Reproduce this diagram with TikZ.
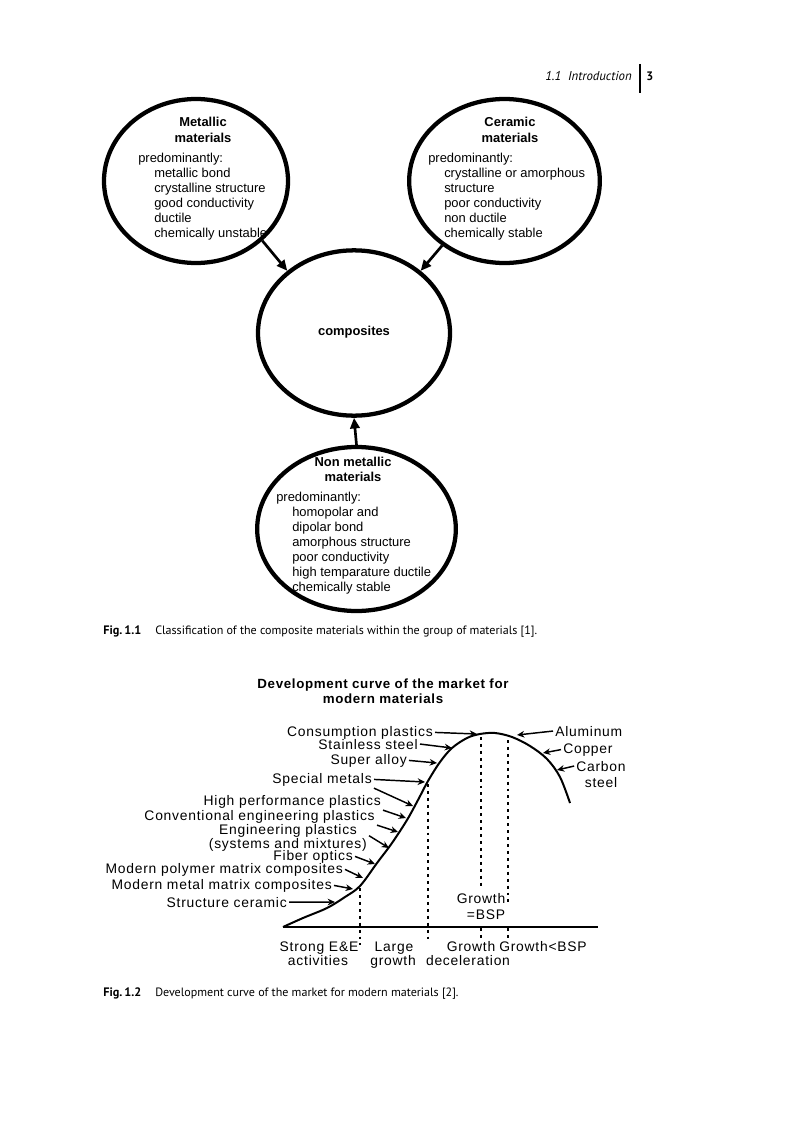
\documentclass[tikz,border=0pt]{standalone}
\usepackage{fontspec}
\setmainfont{Liberation Sans}
\newfontfamily\capfont{PT Sans}
\newfontfamily\wfont[LetterSpace=5.5]{Liberation Sans}
\newfontfamily\titfont[LetterSpace=5]{Liberation Sans}
\usetikzlibrary{shapes.geometric,arrows.meta}
\tikzset{
  ell/.style={draw, ellipse, line width=3.2pt, inner sep=0pt},
  txt/.style={font=\fontsize{9.7}{11.25}\selectfont, inner sep=0pt},
  ttl/.style={font=\bfseries\fontsize{9.7}{11.25}\selectfont, inner sep=0pt},
  conn/.style={-{Triangle[length=8pt,width=7pt]}, line width=2pt},
  lab/.style={font=\wfont\fontsize{10.4}{12}\selectfont, inner sep=1.5pt},
  larr/.style={-{Stealth[length=5.5pt,width=5pt]}, line width=1.1pt},
  dots/.style={line width=1.6pt, dash pattern=on 2.2pt off 3pt},
  capt/.style={font=\capfont\fontsize{9.05}{10}\selectfont, inner sep=0pt},
  captb/.style={font=\capfont\bfseries\fontsize{9.2}{10}\selectfont, inner sep=0pt},
}
\begin{document}
\begin{tikzpicture}[x=0.75pt,y=-0.75pt]
\useasboundingbox (0,0) rectangle (800,1131);
\fill[white] (0,0) rectangle (800,1131);
% header
\node[anchor=base east, inner sep=0pt, font=\capfont\itshape\fontsize{9.6}{10}\selectfont] (hdr) at (632,80) {1.1\ \ Introduction};
\draw[line width=1.6pt] (640,64) -- (640,93);
\node[captb, anchor=base west] (pg) at (646,80) {3};
% ellipses
\node[ell, minimum width=138pt, minimum height=123pt] (met) at (196,181) {};
\node[ell, minimum width=143pt, minimum height=123pt] (cer) at (504.5,181) {};
\node[ell, minimum width=144pt, minimum height=124pt] (comp) at (354,333) {};
\node[ell, minimum width=149pt, minimum height=123pt] (non) at (356.5,529) {};
% metallic text
\node[ttl, anchor=base] (mt1) at (203,127) {Metallic};
\node[ttl, anchor=base] (mt2) at (203,142) {materials};
\node[txt, anchor=base west] (mp) at (138,162) {predominantly:};
\foreach \t [count=\i] in {metallic bond, crystalline structure, good conductivity, ductile, chemically unstable}
  \node[txt, anchor=base west] (m\i) at (154,162+15*\i) {\t};
% ceramic text
\node[ttl, anchor=base] (ct1) at (510,127) {Ceramic};
\node[ttl, anchor=base] (ct2) at (510,142) {materials};
\node[txt, anchor=base west] (cp) at (428,162) {predominantly:};
\foreach \t [count=\i] in {crystalline or amorphous, structure, poor conductivity, non ductile, chemically stable}
  \node[txt, anchor=base west] (c\i) at (444,162+15*\i) {\t};
% composites
\node[ttl] (compt) at (354,332) {composites};
% non metallic text
\node[ttl, anchor=base] (nt1) at (353,466) {Non metallic};
\node[ttl, anchor=base] (nt2) at (353,481) {materials};
\node[txt, anchor=base west] (np) at (276,501) {predominantly:};
\foreach \t [count=\i] in {homopolar and, dipolar bond, amorphous structure, poor conductivity, high temparature ductile, chemically stable}
  \node[txt, anchor=base west] (n\i) at (292,501+15*\i) {\t};
% connectors
\draw[conn] (met.-42) -- (comp.137);
\draw[conn] (cer.-134) -- (comp.43);
\draw[conn] (non.north) -- (comp.south);
% caption 1
\node[captb, anchor=base west] (f1) at (103,634) {Fig.\,1.1};
\node[capt, anchor=base west] (f1t) at (155,634) {Classification of the composite materials within the group of materials [1].};
% chart title
\node[anchor=base, inner sep=0pt, font=\titfont\bfseries\fontsize{10}{12}\selectfont] (g1) at (383,688) {Development curve of the market for};
\node[anchor=base, inner sep=0pt, font=\titfont\bfseries\fontsize{10}{12}\selectfont] (g2) at (383,703) {modern materials};
% axis and curve
\draw[line width=2pt] (283,927) -- (598,927);
\draw[line width=1.5pt] plot[smooth, tension=0.55] coordinates {(283,927) (303,918) (327,908) (345,897) (360,886) (377,863) (392,843) (407,820) (418,800) (428,781) (440,762) (452,748) (467,738) (480,734) (495,733) (512,737) (530,746) (547,759) (560,777) (570,803)};
% dotted lines
\draw[dots] (360,888) -- (360,945);
\draw[dots] (428,784) -- (428,942);
\draw[dots] (481,737) -- (481,888);
\draw[dots] (481,928) -- (481,938);
\draw[dots] (508,740) -- (508,905);
\draw[dots] (508,928) -- (508,938);
% tips on curve
\coordinate (t1) at (477,734);
\coordinate (t2) at (452,748);
\coordinate (t3) at (437,763);
\coordinate (t4) at (425,782);
\coordinate (t4b) at (413,806);
\coordinate (t5) at (406,818);
\coordinate (t6) at (398,832);
\coordinate (t7) at (389,848);
\coordinate (t8) at (375,864);
\coordinate (t9) at (363,878);
\coordinate (t10) at (353,889);
\coordinate (t11) at (335,902);
\coordinate (r1) at (517,735);
\coordinate (r2) at (543,753);
\coordinate (r3) at (557,770);
% left labels
\node[lab, anchor=base east] (l1) at (435,736) {Consumption plastics};
\node[lab, anchor=base east] (l2) at (420,749) {Stainless steel};
\node[lab, anchor=base east] (l3) at (409,764) {Super alloy};
\node[lab, anchor=base east] (l4) at (374,783) {Special metals};
\node[lab, anchor=base east] (l5) at (383,805) {High performance plastics};
\node[lab, anchor=base east] (l6) at (377,820) {Conventional engineering plastics};
\node[lab, anchor=base] (l7a) at (288,834) {Engineering plastics};
\node[lab, anchor=base east] (l7) at (369,848) {(systems and mixtures)};
\node[lab, anchor=base east] (l8) at (355,860) {Fiber optics};
\node[lab, anchor=base east] (l9) at (345,873) {Modern polymer matrix composites};
\node[lab, anchor=base east] (l10) at (334,889) {Modern metal matrix composites};
\node[lab, anchor=base east] (l11) at (289,907) {Structure ceramic};
\draw[larr] (l1.east) -- (t1);
\draw[larr] (l2.east) -- (t2);
\draw[larr] (l3.east) -- (t3);
\draw[larr] (l4.east) -- (t4);
\draw[larr] (l4.south east) -- (t4b);
\draw[larr] (l5.south east) -- (t5);
\draw[larr] (l6.south east) -- (t6);
\draw[larr] (l7.north east) -- (t7);
\draw[larr] (l8.east) -- (t8);
\draw[larr] (l9.east) -- (t9);
\draw[larr] (l10.east) -- (t10);
\draw[larr] (l11.east) -- (t11);
% right labels
\node[lab, anchor=base west] (rr1) at (553,736) {Aluminum};
\node[lab, anchor=base west] (rr2) at (561,753) {Copper};
\node[lab, anchor=base] (rr3) at (601,771) {Carbon};
\node[lab, anchor=base] (rr3b) at (601,787) {steel};
\draw[larr] (rr1.west) -- (r1);
\draw[larr] (rr2.west) -- (r2);
\draw[larr] (rr3.west) -- (r3);
% growth labels
\node[lab, anchor=base] (gb1) at (481,903) {Growth};
\node[lab, anchor=base] (gb2) at (486,919) {=BSP};
\node[lab, anchor=base] (b1) at (319,951) {Strong E\&E};
\node[lab, anchor=base] (b1b) at (318,965) {activities};
\node[lab, anchor=base] (b2) at (394,951) {Large};
\node[lab, anchor=base] (b2b) at (393,965) {growth};
\node[lab, anchor=base] (b3) at (471,951) {Growth};
\node[lab, anchor=base] (b3b) at (468,965) {deceleration};
\node[lab, anchor=base] (b4) at (543,951) {Growth<BSP};
% caption 2
\node[captb, anchor=base west] (f2) at (103,996) {Fig.\,1.2};
\node[capt, anchor=base west] (f2t) at (155,996) {Development curve of the market for modern materials [2].};
\end{tikzpicture}
\end{document}
